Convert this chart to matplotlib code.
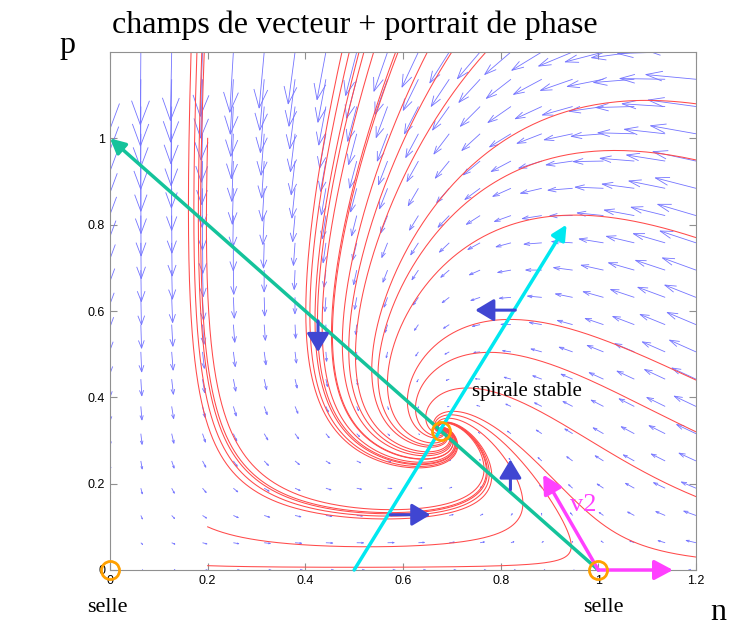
import numpy as np
import matplotlib.pyplot as plt
from matplotlib.collections import LineCollection

# model: dn = n(1-n-p), dp = p(c*n - d - e*p)
c_p, d_p, e_p = 2.0, 1.0, 1.1

# vector field grid and arrow scale
grid_n = np.linspace(0, 1.2, 20)
grid_p = np.linspace(0, 1.2, 20)
arrow_scale = 0.064

# starting points of the red trajectories
start_top_n = [0.166, 0.178, 0.188, 0.193, 0.475, 0.49, 0.51, 0.52, 0.54,
               0.585, 0.59, 0.65, 0.70, 0.77]
start_right_p = [1.08, 0.95, 0.77, 0.44, 0.32, 0.17, 0.03]
start_other = [(0.2, 1.0), (0.2, 0.1), (0.2, 0.01)]

# fixed points
fix_n = [0, 1, 0.677]
fix_p = [0, 0, 0.323]

# annotation arrows (tail, tip)
nullcline_n = [(1, 0), (0, 1)]
nullcline_p = [(0.5, 0), (0.935, 0.8)]
blue_arrows = [((0.426, 0.577), (0.426, 0.505)),
               ((0.83, 0.602), (0.748, 0.602)),
               ((0.574, 0.128), (0.656, 0.128)),
               ((0.82, 0.186), (0.82, 0.256))]
v_arrows = [((1, 0), (1.153, 0)), ((1, 0), (0.887, 0.221))]


def field(n, p):
    return n * (1 - n - p), p * (c_p * n - d_p - e_p * p)


def trajectory(n0, p0, dt=0.01, steps=4000):
    pts = np.zeros((steps, 2))
    x = np.array([n0, p0], float)
    f = lambda z: np.array(field(z[0], z[1]))
    for i in range(steps):
        pts[i] = x
        k1 = f(x)
        k2 = f(x + dt / 2 * k1)
        k3 = f(x + dt / 2 * k2)
        k4 = f(x + dt * k3)
        x = x + dt / 6 * (k1 + 2 * k2 + 2 * k3 + k4)
    return pts


plt.rcParams['font.family'] = 'Liberation Serif'
fig = plt.figure(figsize=(7.55, 6.37), dpi=100)
ax = fig.add_axes([110 / 755, 1 - 570 / 637, 586 / 755, 518 / 637])

# vector field, matlab style arrows
N, P = np.meshgrid(grid_n, grid_p)
U, V = field(N, P)
U = U.ravel() * arrow_scale
V = V.ravel() * arrow_scale
X, Y = N.ravel(), P.ravel()
a, b = 0.33, 0.33
segs = []
for x, y, u, v in zip(X, Y, U, V):
    if np.hypot(u, v) < 1e-9:
        continue
    segs.append([(x, y), (x + u, y + v)])
    segs.append([(x + u - a * (u + b * v), y + v - a * (v - b * u)),
                 (x + u, y + v),
                 (x + u - a * (u - b * v), y + v - a * (v + b * u))])
ax.add_collection(LineCollection(segs, colors='#7474ff', linewidths=0.6))

# trajectories
starts = [(n0, 1.2) for n0 in start_top_n] + [(1.2, p0) for p0 in start_right_p] + start_other
for n0, p0 in starts:
    tr = trajectory(n0, p0)
    ax.plot(tr[:, 0], tr[:, 1], color='#ff4a4a', lw=0.75)


def arrow(tail, tip, color, lw=2.5, hl=0.6, hw=0.3):
    ax.annotate('', xy=tip, xytext=tail, annotation_clip=False,
                arrowprops=dict(arrowstyle='-|>,head_length=%g,head_width=%g' % (hl, hw),
                                color=color, lw=lw, shrinkA=0, shrinkB=0,
                                mutation_scale=15), zorder=5)


arrow(nullcline_n[0], nullcline_n[1], '#14c39b')
arrow(nullcline_p[0], nullcline_p[1], '#00e8f0')
for tail, tip in blue_arrows:
    arrow(tail, tip, '#4046d2', lw=2.2, hl=0.75, hw=0.45)
for tail, tip in v_arrows:
    arrow(tail, tip, '#ff40ff', lw=2.5, hl=0.75, hw=0.4)

ax.plot(fix_n, fix_p, 'o', mfc='none', mec='#ffa000', ms=13, mew=2,
        clip_on=False, zorder=6)

ax.text(0.97, 0.15, 'v2', color='#ff40ff', fontsize=19, ha='center', va='center')
ax.text(0.742, 0.414, 'spirale stable', fontsize=15, ha='left', va='center')
ax.text(-0.006, -0.086, 'selle', fontsize=16, ha='center', va='center')
ax.text(1.01, -0.086, 'selle', fontsize=16, ha='center', va='center')
ax.text(1.246, -0.098, 'n', fontsize=23, ha='center', va='center')
ax.text(-0.088, 1.215, 'p', fontsize=23, ha='center', va='center')
fig.text(355 / 755, 1 - 25 / 637, 'champs de vecteur + portrait de phase',
         fontsize=23, ha='center', va='center')

ax.set_xlim(0, 1.2)
ax.set_ylim(0, 1.2)
ax.set_xticks([0, 0.2, 0.4, 0.6, 0.8, 1, 1.2])
ax.set_xticklabels(['0', '0.2', '0.4', '0.6', '0.8', '1', '1.2'])
ax.set_yticks([0, 0.2, 0.4, 0.6, 0.8, 1])
ax.set_yticklabels(['0', '0.2', '0.4', '0.6', '0.8', '1'])
ax.tick_params(direction='in', length=5, color='#909090', labelsize=9,
               top=True, right=True)
for lab in ax.get_xticklabels() + ax.get_yticklabels():
    lab.set_family('Liberation Sans')
for s in ax.spines.values():
    s.set_color('#909090')

fig.savefig('out.png', dpi=100)
